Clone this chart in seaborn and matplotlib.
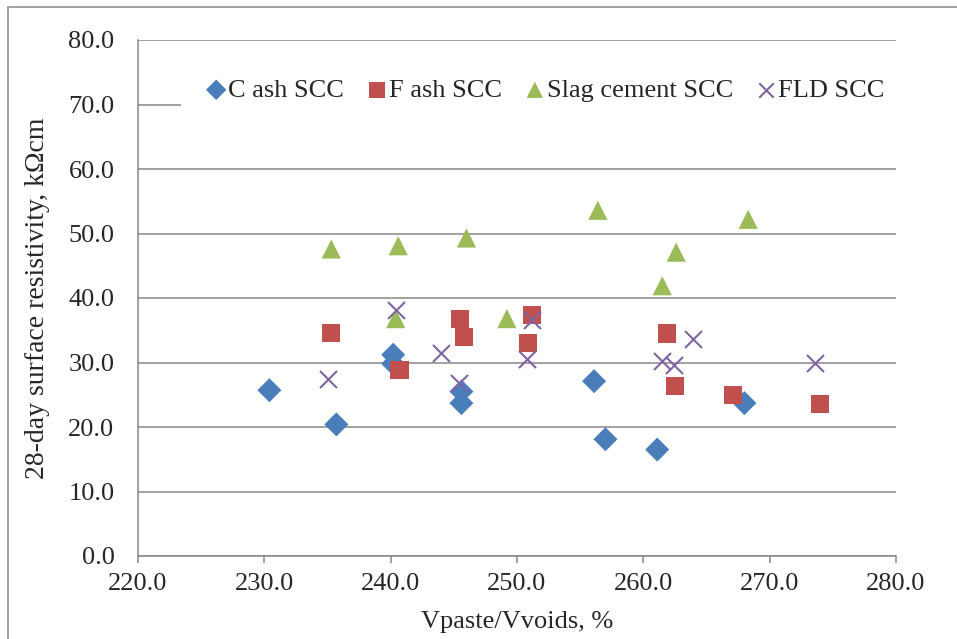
import matplotlib
matplotlib.use("Agg")
import matplotlib.pyplot as plt
from matplotlib.lines import Line2D
import seaborn as sns
import pandas as pd

# ---- data ----
c_ash_x = [230.4, 235.7, 240.2, 240.2, 245.6, 245.6, 256.1, 257.0, 261.1, 268.0]
c_ash_y = [25.7, 20.4, 31.2, 29.8, 25.5, 23.7, 27.1, 18.1, 16.5, 23.7]

f_ash_x = [235.3, 240.7, 245.5, 245.8, 251.2, 250.9, 261.9, 262.5, 267.1, 274.0]
f_ash_y = [34.6, 28.8, 36.8, 33.9, 37.4, 33.0, 34.5, 26.3, 24.9, 23.6]

slag_x = [235.3, 240.6, 246.0, 240.4, 249.2, 256.4, 262.6, 261.5, 268.3]
slag_y = [47.6, 48.1, 49.3, 36.8, 36.8, 53.6, 47.1, 41.9, 52.2]

fld_x = [235.0, 240.4, 244.0, 245.4, 251.2, 250.8, 263.9, 261.5, 262.4, 273.6]
fld_y = [27.4, 38.2, 31.5, 26.8, 36.6, 30.6, 33.7, 30.2, 29.6, 29.9]

series_names = ["C ash SCC", "F ash SCC", "Slag cement SCC", "FLD SCC"]
x_ticks = [220.0, 230.0, 240.0, 250.0, 260.0, 270.0, 280.0]
y_ticks = [0.0, 10.0, 20.0, 30.0, 40.0, 50.0, 60.0, 70.0, 80.0]
x_label = "Vpaste/Vvoids, %"
y_label = "28-day surface resistivity, kΩcm"

# ---- style ----
sns.set_style("white")
plt.rcParams["font.family"] = ["Liberation Serif", "DejaVu Serif"]
FS = 19
GRID = "#888888"

fig = plt.figure(figsize=(9.57, 6.39), dpi=100)
ax = fig.add_axes([138 / 957, 83 / 639, (896 - 138) / 957, (556 - 40) / 639])

series = [
    (c_ash_x, c_ash_y, "#4A7EBB", "D", 150),
    (f_ash_x, f_ash_y, "#C0504D", "s", 170),
    (slag_x, slag_y, "#9BBB59", "^", 190),
    (fld_x, fld_y, "#8064A2", "x", 150),
]
for name, (xs, ys, col, mk, sz) in zip(series_names, series):
    df = pd.DataFrame({"x": xs, "y": ys})
    if mk == "x":
        sns.scatterplot(data=df, x="x", y="y", ax=ax, marker=mk, s=sz,
                        color=col, linewidth=1.5, label=name, zorder=3)
    else:
        sns.scatterplot(data=df, x="x", y="y", ax=ax, marker=mk, s=sz,
                        color=col, edgecolor="none", linewidth=0, label=name, zorder=3)

ax.set_xlim(220, 280)
ax.set_ylim(0, 80)
ax.set_xticks(x_ticks)
ax.set_yticks(y_ticks)
ax.set_xticklabels([f"{v:.1f}" for v in x_ticks])
ax.set_yticklabels([f"{v:.1f}" for v in y_ticks])
ax.grid(axis="y", color=GRID, linewidth=1.1, zorder=0)
ax.grid(axis="x", visible=False)
ax.set_axisbelow(True)
for s in ["top", "right"]:
    ax.spines[s].set_visible(False)
for s in ["left", "bottom"]:
    ax.spines[s].set_color(GRID)
    ax.spines[s].set_linewidth(1.1)
ax.tick_params(axis="x", length=5, width=1.1, color=GRID, direction="out",
               labelsize=FS, pad=7, bottom=True)
ax.tick_params(axis="y", length=0, labelsize=FS, pad=17, left=True)
ax.set_xlabel(x_label, fontsize=FS, labelpad=12)
ax.set_ylabel(y_label, fontsize=20, labelpad=13)

leg = ax.legend(loc="center", bbox_to_anchor=(0.568, 1 - 90 / 639), bbox_transform=fig.transFigure,
                ncol=4, frameon=True, fontsize=FS, handlelength=1.0, handletextpad=-0.05,
                columnspacing=0.75, borderpad=0.85, markerscale=0.85)
leg.get_frame().set_facecolor("white")
leg.get_frame().set_edgecolor("none")
leg.get_frame().set_alpha(1)
leg.set_zorder(5)

# outer chart border
fig.add_artist(Line2D([8 / 957, 8 / 957], [0, 1 - 7 / 639], color=GRID, linewidth=1.1,
                      transform=fig.transFigure))
fig.add_artist(Line2D([8 / 957, 1], [1 - 7 / 639, 1 - 7 / 639], color=GRID, linewidth=1.1,
                      transform=fig.transFigure))

fig.savefig("out.png", dpi=100)
